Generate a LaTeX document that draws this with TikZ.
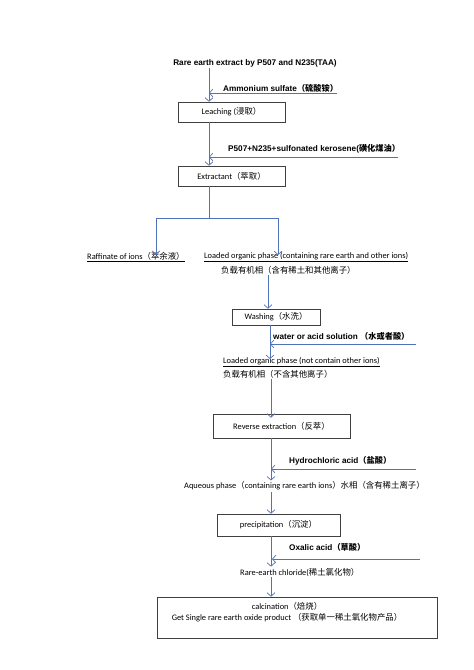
\documentclass[tikz,border=0pt]{standalone}
\usepackage{fontspec}
\setmainfont{Carlito}
\newfontfamily\arialfont{Liberation Sans}
\newfontfamily\cjk{Noto Sans CJK SC}
\usetikzlibrary{arrows.meta}
\definecolor{flowblue}{RGB}{79,114,184}
\tikzset{
  stepbox/.style={draw=black!75, line width=0.6pt, inner sep=0pt, font=\fontsize{8.4}{10}\selectfont},
  flow/.style={draw=flowblue, line width=0.7pt, -{Straight Barb[length=3.5pt,width=8pt]}},
  bar/.style={draw=flowblue, line width=0.7pt},
  feed/.style={inner sep=1pt, font=\arialfont\bfseries\fontsize{8.2}{10}\selectfont},
  note/.style={inner sep=1pt, font=\fontsize{8.4}{10}\selectfont}
}
\begin{document}
\begin{tikzpicture}[x=1pt,y=-1pt]
\useasboundingbox (0,0) rectangle (474,670);

% title and feeds
\node[feed] (title) at (255,63) {Rare earth extract by P507 and N235(TAA)};
\node[feed, anchor=west] (ammo) at (222,88) {Ammonium sulfate{\cjk （硫酸铵）}};
\node[feed, anchor=west] (kero) at (227,149) {P507+N235+sulfonated kerosene({\cjk 磺化煤油）}};
\node[feed, anchor=west] (water) at (272,336) {water or acid solution {\cjk （水或者酸）}};
\node[feed, anchor=west] (hcl) at (288,461) {Hydrochloric acid{\cjk （盐酸）}};
\node[feed, anchor=west] (oxal) at (288,547) {Oxalic acid{\cjk （草酸）}};

% process boxes
\node[stepbox, minimum width=107pt, minimum height=20pt] (leach) at (231.5,112) {Leaching ({\cjk 浸取）}};
\node[stepbox, minimum width=107pt, minimum height=20pt] (extr) at (231.5,176) {Extractant{\cjk （萃取）}};
\node[stepbox, minimum width=88pt, minimum height=16pt] (wash) at (276,317) {Washing{\cjk （水洗）}};
\node[stepbox, minimum width=137pt, minimum height=24pt] (rev) at (281.5,426) {Reverse extraction{\cjk （反萃）}};
\node[stepbox, minimum width=123pt, minimum height=22pt] (prec) at (278.5,525) {precipitation{\cjk （沉淀）}};
\node[stepbox, minimum width=280pt, minimum height=41pt] (calc) at (297,617.5) {};
\node[note, align=center] (calctxt) at (287,612.5)
  {calcination{\cjk （焙烧）}\\[1pt] Get Single rare earth oxide product {\cjk （获取单一稀土氧化物产品）}};

% intermediate products
\node[note, anchor=west] (raff) at (86,257) {\underline{Raffinate of ions{\cjk （萃余液）}}};
\node[note, anchor=west] (load) at (203,257) {\underline{Loaded organic phase (containing rare earth and other ions)}};
\node[note, anchor=west] (loadcn) at (220,270) {\cjk 负载有机相（含有稀土和其他离子）};
\node[note, anchor=west] (pure) at (222,362) {\underline{Loaded organic phase (not contain other ions)}};
\node[note, anchor=west] (purecn) at (222,374) {\cjk 负载有机相（不含其他离子）};
\node[note, anchor=west] (aq) at (183,486) {Aqueous phase{\cjk （}containing rare earth ions{\cjk ）水相（含有稀土离子）}};
\node[note, anchor=west] (chlo) at (239,572) {Rare-earth chloride({\cjk 稀土氯化物）}};

% junction points
\coordinate (a1) at (209,93);
\coordinate (a2) at (209,157);
\coordinate (sl) at (156,218);
\coordinate (sm) at (209,218);
\coordinate (sr) at (278,218);
\coordinate (w1) at (270,344);
\coordinate (h1) at (271,469);
\coordinate (o1) at (272,559);
\coordinate (fa) at (337,93);
\coordinate (fk) at (398,157);
\coordinate (fw) at (416,344);
\coordinate (fh) at (416,469);
\coordinate (fo) at (420,559);

% main line
\draw[flow] (title.south -| a1) -- (leach.north -| a1);
\draw[flow] (leach.south -| a2) -- (extr.north -| a2);
\draw[bar] (extr.south -| sm) -- (sm);
\draw[bar] (sl) -- (sr);
\draw[flow] (sl) -- ([yshift=-4pt]raff.north -| sl);
\draw[flow] (sr) -- ([yshift=-4pt]load.north -| sr);
\draw[flow] (loadcn.south -| 268,0) -- (wash.north -| 268,0);
\draw[flow] (wash.south -| w1) -- ([yshift=-3pt]pure.north -| w1);
\draw[flow] (purecn.south -| h1) -- ([yshift=-4pt]rev.north -| h1);
\draw[flow] (rev.south -| h1) -- (aq.north -| h1);
\draw[flow] (aq.south -| h1) -- (prec.north -| h1);
\draw[flow] (prec.south -| h1) -- (chlo.north -| h1);
\draw[flow] (chlo.south -| h1) -- (calc.north -| h1);

% feeds coming in
\draw[flow] (fa) -- (a1);
\draw[flow] (fk) -- (a2);
\draw[flow] (fw) -- (w1);
\draw[flow] (fh) -- (h1);
\draw[flow] (fo) -- (o1);
\end{tikzpicture}
\end{document}
